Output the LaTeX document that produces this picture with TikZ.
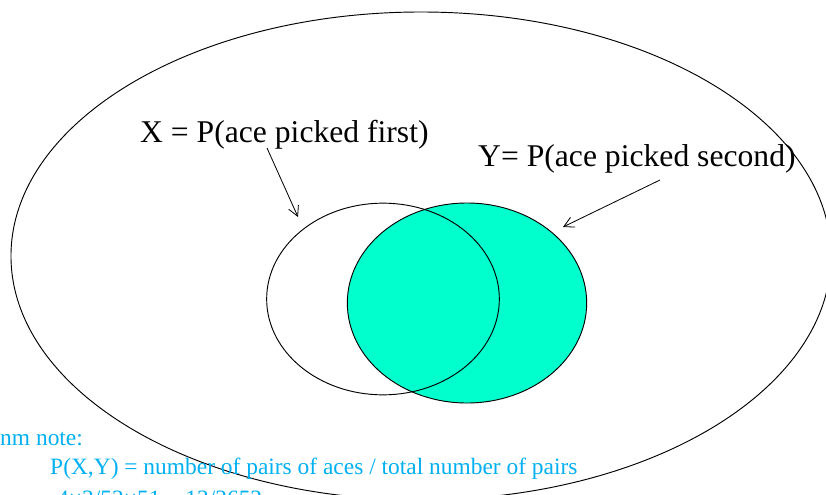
\documentclass[tikz,border=0pt]{standalone}
\usepackage{fontspec}
\setmainfont{Liberation Serif}
\usepackage{tikz}
\usetikzlibrary{shapes.geometric, arrows.meta, positioning, calc}
\usepackage{xcolor}
\definecolor{aceteal}{RGB}{0,255,204}
\definecolor{noteblue}{RGB}{0,176,240}
\tikzstyle{sample} = [ellipse, draw=black, line width=0.8pt, inner sep=0pt]
\tikzstyle{setlbl} = [anchor=base west, inner sep=0pt, font=\fontsize{27}{32}\selectfont]
\tikzstyle{note} = [inner sep=0pt, text=noteblue, font=\fontsize{20}{24}\selectfont]
\tikzstyle{arrow} = [line width=0.7pt, -{Straight Barb[length=3mm, width=3.2mm]}]

\begin{document}
\begin{tikzpicture}[x=0.03cm, y=-0.03cm]
\useasboundingbox (0,0) rectangle (826,494);
\node (space) [sample, minimum width=24.6cm, minimum height=14.64cm] at (421,256) {};
\node (sety) [sample, fill=aceteal, minimum width=7.18cm, minimum height=6cm] at (467,303) {};
\node (setx) [sample, minimum width=6.98cm, minimum height=5.75cm] at (383,299) {};

\node (xlbl) [setlbl] at (140,142) {X = P(ace picked first)};
\node (ylbl) [setlbl] at (478,166) {Y= P(ace picked second)};
\coordinate (xtail) at (267,148);
\coordinate (xtip) at (298,217);
\coordinate (ytail) at (660,180);
\coordinate (ytip) at (563,227);
\draw[arrow] (xtail) -- (xtip);
\draw[arrow] (ytail) -- (ytip);

\node (memo) [note, anchor=base west] at (0,445) {nm note:};
\node (pxy) [note, anchor=base west] at (50,474) {P(X,Y) = number of pairs of aces / total number of pairs};
\node (count) [note, anchor=base west] at (57,506) {4×3/52×51 = 12/2652};
\end{tikzpicture}
\end{document}
